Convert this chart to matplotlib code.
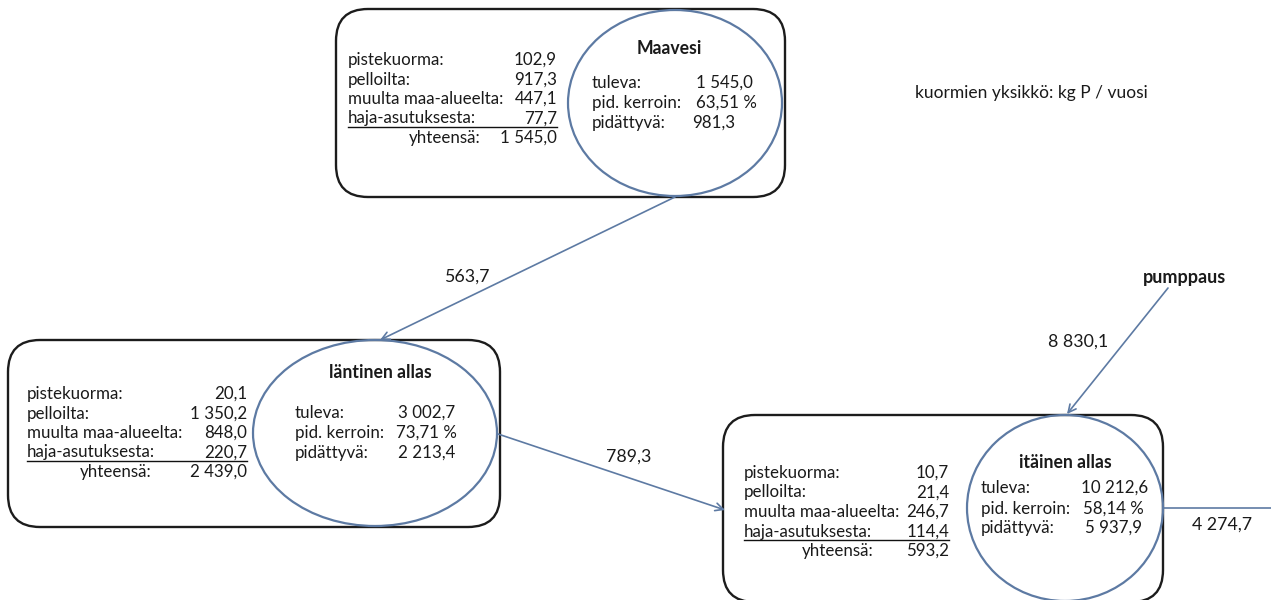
import matplotlib.pyplot as plt
from matplotlib.patches import FancyBboxPatch, Ellipse

plt.rcParams['font.family'] = ['Lato', 'DejaVu Sans']

# kuormat (kg P / vuosi)
lake_names = ['Maavesi', 'läntinen allas', 'itäinen allas']
load_labels = ['pistekuorma:', 'pelloilta:', 'muulta maa-alueelta:', 'haja-asutuksesta:']
pistekuorma = [102.9, 20.1, 10.7]
pelloilta = [917.3, 1350.2, 21.4]
muulta = [447.1, 848.0, 246.7]
haja = [77.7, 220.7, 114.4]
yhteensa = [1545.0, 2439.0, 593.2]
inner_labels = ['tuleva:', 'pid. kerroin:', 'pidättyvä:']
tuleva = [1545.0, 3002.7, 10212.6]
kerroin = [63.51, 73.71, 58.14]
pidattyva = [981.3, 2213.4, 5937.9]
flow_labels = ['563,7', '789,3', '8 830,1', '4 274,7']
flows = [563.7, 789.3, 8830.1, 4274.7]


def fi(v, dec=1):
    s = f'{v:,.{dec}f}'
    return s.replace(',', ' ').replace('.', ',')


# layout (pixels)
boxes = [(336, 9, 785, 197), (8, 340, 500, 527), (723, 415, 1163, 602)]
lab_x = [348, 27, 744]
val_r = [557, 247, 949]
tot_r = [481, 152, 874]
line_y0 = [60, 394, 473]
ells = [(675, 103, 214, 186), (375, 433, 244, 186), (1065, 508, 196, 186)]
title_xy = [(669, 48), (380, 373), (1065, 462)]
in_x = [592, 295, 981]
in_y = [(83, 103, 123), (413, 433, 453), (488, 509, 528)]
in_r = [(753, 757, 735), (455, 457, 455), (1148, 1144, 1142)]

txt = '#1a1a1a'
blue = '#5d7aa3'
fs = 12.2

fig = plt.figure(figsize=(12.71, 6), dpi=100)
ax = fig.add_axes([0, 0, 1, 1])
ax.set_xlim(0, 1271)
ax.set_ylim(600, 0)
ax.axis('off')

for i in range(3):
    x0, y0, x1, y1 = boxes[i]
    ax.add_patch(FancyBboxPatch((x0, y0), x1 - x0, y1 - y0,
                                boxstyle='round,pad=0,rounding_size=32',
                                fc='white', ec='#1c1c1c', lw=1.7, zorder=1))
    cx, cy, w, h = ells[i]
    ax.add_patch(Ellipse((cx, cy), w, h, fc='none', ec=blue, lw=1.6, zorder=2))

    vals = [pistekuorma[i], pelloilta[i], muulta[i], haja[i]]
    for k in range(4):
        y = line_y0[i] + k * 19.5
        ax.text(lab_x[i], y, load_labels[k], fontsize=fs, color=txt, va='center')
        ax.text(val_r[i], y, fi(vals[k]), fontsize=fs, color=txt, va='center', ha='right')
    uy = line_y0[i] + 3 * 19.5 + 8
    ax.plot([lab_x[i], val_r[i]], [uy, uy], color='#111111', lw=1.0)
    y = line_y0[i] + 4 * 19.5
    ax.text(tot_r[i], y, 'yhteensä:', fontsize=fs, color=txt, va='center', ha='right')
    ax.text(val_r[i], y, fi(yhteensa[i]), fontsize=fs, color=txt, va='center', ha='right')

    tx, ty = title_xy[i]
    ax.text(tx, ty, lake_names[i], fontsize=fs + 0.5, color=txt, va='center', ha='center',
            fontweight='bold')
    ivals = [fi(tuleva[i]), fi(kerroin[i], 2) + ' %', fi(pidattyva[i])]
    for k in range(3):
        ax.text(in_x[i], in_y[i][k], inner_labels[k], fontsize=fs, color=txt, va='center')
        ax.text(in_r[i][k], in_y[i][k], ivals[k], fontsize=fs, color=txt,
                va='center', ha='right')

# virtaukset
arrows = [((675, 197), (380, 340)), ((498, 434), (725, 510)), ((1168, 288), (1067, 414))]
for (s, e) in arrows:
    ax.annotate('', xy=e, xytext=s,
                arrowprops=dict(arrowstyle='->', color=blue, lw=1.2,
                                shrinkA=0, shrinkB=0, mutation_scale=14), zorder=3)
ax.plot([1163, 1271], [508, 508], color=blue, lw=1.2, zorder=3)

flow_pos = [(467, 277), (629, 457), (1078, 342), (1222, 525)]
for lbl, (x, y) in zip(flow_labels, flow_pos):
    ax.text(x, y, lbl, fontsize=12.8, color=txt, va='center', ha='center')

ax.text(1185, 278, 'pumppaus', fontsize=13, color=txt, va='center', ha='center',
        fontweight='bold')
ax.text(915, 93, 'kuormien yksikkö: kg P / vuosi', fontsize=12.5, color=txt, va='center')

fig.savefig('out.png', dpi=100)
